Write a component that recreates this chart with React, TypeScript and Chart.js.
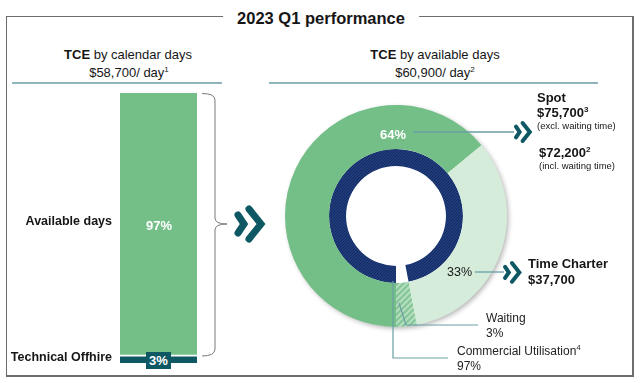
import React, { useEffect, useRef } from 'react';
import { Chart, registerables } from 'chart.js';

Chart.register(...registerables);

// ---------- data ----------
const calendarLabels = ['Technical Offhire', 'Available days'];
const calendarShares = [3, 97];
const employmentLabels = ['Spot', 'Time Charter', 'Waiting'];
const employmentShares = [64, 33, 3];
const utilisationLabels = ['Commercial Utilisation', 'Not utilised'];
const utilisationShares = [97, 3];
const tceCalendar = '$58,700';
const tceAvailable = '$60,900';
const spotExcl = '$75,700';
const spotIncl = '$72,200';
const tcRate = '$37,700';

// ---------- styles ----------
const FONT = '"Liberation Sans", Arial, Helvetica, sans-serif';
const TEAL = '#0e5864';
const GREEN = '#74bf88';
const LIGHT_GREEN = '#d5ecda';
const LINE = '#6a9ea5';
const INK = '#161616';

function makePattern(size: number, bg: string, fg: string, lw: number) {
  const c = document.createElement('canvas');
  c.width = size;
  c.height = size;
  const g = c.getContext('2d') as CanvasRenderingContext2D;
  g.fillStyle = bg;
  g.fillRect(0, 0, size, size);
  g.strokeStyle = fg;
  g.lineWidth = lw;
  g.beginPath();
  g.moveTo(0, size);
  g.lineTo(size, 0);
  g.moveTo(-size / 2, size / 2);
  g.lineTo(size / 2, -size / 2);
  g.moveTo(size / 2, size * 1.5);
  g.lineTo(size * 1.5, size / 2);
  g.stroke();
  return g.createPattern(c, 'repeat') as CanvasPattern;
}

type TProps = {
  x: number;
  y: number;
  size: number;
  bold?: boolean;
  align?: 'left' | 'center' | 'right';
  color?: string;
  children: React.ReactNode;
};

function T({ x, y, size, bold, align = 'left', color = INK, children }: TProps) {
  const style: React.CSSProperties = {
    position: 'absolute',
    top: y - size / 2,
    fontSize: size,
    lineHeight: `${size}px`,
    fontWeight: bold ? 700 : 400,
    color,
    whiteSpace: 'nowrap',
    fontFamily: FONT,
  };
  if (align === 'left') style.left = x;
  if (align === 'right') style.right = 640 - x;
  if (align === 'center') {
    style.left = x;
    style.transform = 'translateX(-50%)';
  }
  return <div style={style}>{children}</div>;
}

function Sup({ children }: { children: React.ReactNode }) {
  return (
    <span style={{ fontSize: '0.62em', verticalAlign: 'super', lineHeight: 0 }}>{children}</span>
  );
}

function BarChart() {
  const ref = useRef<HTMLCanvasElement>(null);
  useEffect(() => {
    const chart = new Chart(ref.current as HTMLCanvasElement, {
      type: 'bar',
      data: {
        labels: ['TCE'],
        datasets: [
          {
            label: calendarLabels[0],
            data: [calendarShares[0]],
            backgroundColor: TEAL,
            borderColor: '#ffffff',
            borderWidth: { top: 2, left: 0, right: 0, bottom: 0 },
            borderSkipped: false,
            barPercentage: 1,
            categoryPercentage: 1,
          },
          {
            label: calendarLabels[1],
            data: [calendarShares[1]],
            backgroundColor: GREEN,
            borderWidth: 0,
            barPercentage: 1,
            categoryPercentage: 1,
          },
        ],
      },
      options: {
        responsive: false,
        animation: false,
        events: [],
        layout: { padding: { left: 10, right: 10, top: 8, bottom: 12 } },
        scales: {
          x: { stacked: true, display: false },
          y: { stacked: true, display: false, min: 0, max: 100 },
        },
        plugins: { legend: { display: false }, tooltip: { enabled: false } },
      },
    } as any);
    return () => chart.destroy();
  }, []);
  return (
    <canvas
      ref={ref}
      width={97}
      height={290}
      style={{ position: 'absolute', left: 110, top: 85, width: 97, height: 290 }}
    />
  );
}

function DonutChart() {
  const ref = useRef<HTMLCanvasElement>(null);
  useEffect(() => {
    const navy = makePattern(3, '#213c7c', '#132a5f', 1);
    const hatch = makePattern(6, '#84c797', '#b6ddc0', 2);
    const shadowPlugin = {
      id: 'ringShadow',
      beforeDatasetsDraw(chart: any) {
        const arc = chart.getDatasetMeta(0).data[0];
        if (!arc) return;
        const { x, y, outerRadius } = arc.getProps(['x', 'y', 'outerRadius'], true);
        const ctx = chart.ctx;
        ctx.save();
        ctx.shadowColor = 'rgba(0,0,0,0.3)';
        ctx.shadowBlur = 5;
        ctx.shadowOffsetX = 2;
        ctx.shadowOffsetY = 2;
        ctx.fillStyle = '#ffffff';
        ctx.beginPath();
        ctx.arc(x, y, outerRadius - 0.5, 0, Math.PI * 2);
        ctx.fill();
        ctx.restore();
      },
    };
    const chart = new Chart(ref.current as HTMLCanvasElement, {
      type: 'doughnut',
      data: {
        labels: employmentLabels,
        datasets: [
          {
            label: 'Employment',
            data: employmentShares,
            backgroundColor: [GREEN, LIGHT_GREEN, hatch],
            borderWidth: 0,
            weight: 44,
          },
          {
            label: utilisationLabels[0],
            data: utilisationShares,
            backgroundColor: [navy, 'rgba(255,255,255,0)'],
            borderWidth: 0,
            weight: 17,
          },
        ],
      },
      options: {
        responsive: false,
        animation: false,
        events: [],
        rotation: 180,
        radius: 111,
        cutout: '45%',
        layout: { padding: 0 },
        plugins: { legend: { display: false }, tooltip: { enabled: false } },
      },
      plugins: [shadowPlugin],
    } as any);
    return () => chart.destroy();
  }, []);
  return (
    <canvas
      ref={ref}
      width={240}
      height={240}
      style={{ position: 'absolute', left: 276, top: 96, width: 240, height: 240 }}
    />
  );
}

function Chevrons({ x, y, s, w }: { x: number; y: number; s: number; w: number }) {
  const p = (pts: number[][]) => pts.map(([a, b]) => `${x + a * s},${y + b * s}`).join(' ');
  return (
    <g fill="none" stroke={TEAL} strokeWidth={w} strokeLinecap="round" strokeLinejoin="miter">
      <polyline points={p([[5, 11], [11, 20], [5, 29]])} />
      <polyline points={p([[16, 5], [28, 20], [16, 35]])} />
    </g>
  );
}

export default function App() {
  return (
    <div
      style={{
        position: 'absolute',
        left: 0,
        top: 0,
        width: 640,
        height: 383,
        background: '#ffffff',
        fontFamily: FONT,
        overflow: 'hidden',
      }}
    >
      {/* frame */}
      <div
        style={{
          position: 'absolute',
          left: 6,
          top: 16,
          width: 628,
          height: 361,
          boxSizing: 'border-box',
          borderTop: '1px solid #6d6d6d',
          borderLeft: '1px solid #6d6d6d',
          borderRight: '2px solid #6d6d6d',
          borderBottom: '2px solid #6d6d6d',
        }}
      />
      <div
        style={{
          position: 'absolute',
          left: 321,
          top: 10,
          transform: 'translateX(-50%)',
          background: '#ffffff',
          padding: '0 14px',
          fontSize: 16.5,
          lineHeight: '17px',
          fontWeight: 700,
          color: INK,
          whiteSpace: 'nowrap',
        }}
      >
        2023 Q1 performance
      </div>

      {/* headers */}
      <T x={128} y={54.5} size={13} align="center">
        <b>TCE</b> by calendar days
      </T>
      <T x={129} y={72} size={13} align="center">
        {tceCalendar}/ day<Sup>1</Sup>
      </T>
      <T x={435} y={54.5} size={13} align="center">
        <b>TCE</b> by available days
      </T>
      <T x={435} y={72} size={13} align="center">
        {tceAvailable}/ day<Sup>2</Sup>
      </T>

      <BarChart />
      <DonutChart />

      <svg
        width={640}
        height={383}
        style={{ position: 'absolute', left: 0, top: 0, pointerEvents: 'none' }}
      >
        {/* underlines */}
        <line x1={12} y1={83} x2={222} y2={83} stroke={LINE} strokeWidth={1.3} />
        <line x1={269} y1={83} x2={598} y2={83} stroke={LINE} strokeWidth={1.3} />
        {/* bracket */}
        <path
          d="M202,93.5 Q215,93.5 215,100 L215,218 Q215,224 227,224 Q215,224 215,230 L215,349 Q215,356 202,356"
          fill="none"
          stroke="#7a7a7a"
          strokeWidth={1}
        />
        {/* big chevron */}
        <Chevrons x={233} y={204} s={1} w={7} />
        {/* spot line + chevron */}
        <line x1={413} y1={132} x2={514} y2={132} stroke={LINE} strokeWidth={1.5} />
        <Chevrons x={513} y={120} s={0.6} w={4} />
        {/* time charter line + chevron */}
        <line x1={475} y1={272} x2={504} y2={272} stroke={LINE} strokeWidth={1.3} />
        <Chevrons x={502} y={260} s={0.62} w={4} />
        {/* leader lines */}
        <polyline points="399,303 406,325 478,325" fill="none" stroke={LINE} strokeWidth={1.2} />
        <polyline points="393,281 393,358 448,358" fill="none" stroke={LINE} strokeWidth={1.2} />
      </svg>

      {/* left bar labels */}
      <T x={112} y={221} size={12.5} bold align="right">
        {calendarLabels[1]}
      </T>
      <T x={159} y={225} size={13} bold align="center" color="#ffffff">
        {calendarShares[1]}%
      </T>
      <T x={112} y={357} size={12.5} bold align="right">
        {calendarLabels[0]}
      </T>
      <div
        style={{
          position: 'absolute',
          left: 146,
          top: 352,
          width: 25,
          height: 17,
          background: TEAL,
          color: '#ffffff',
          fontWeight: 700,
          fontSize: 13,
          lineHeight: '17px',
          textAlign: 'center',
        }}
      >
        {calendarShares[0]}%
      </div>

      {/* donut labels */}
      <T x={393} y={134} size={13} bold align="center" color="#ffffff">
        {employmentShares[0]}%
      </T>
      <T x={537} y={97} size={13} bold>
        {employmentLabels[0]}
      </T>
      <T x={537} y={112} size={13} bold>
        {spotExcl}
        <Sup>3</Sup>
      </T>
      <T x={537} y={126} size={9.5}>
        (excl. waiting time)
      </T>
      <T x={539} y={152} size={13} bold>
        {spotIncl}
        <Sup>2</Sup>
      </T>
      <T x={539} y={166} size={9.5}>
        (incl. waiting time)
      </T>

      <T x={447} y={272} size={12.5}>
        {employmentShares[1]}%
      </T>
      <T x={528} y={263.5} size={13} bold>
        {employmentLabels[1]}
      </T>
      <T x={528} y={279.5} size={13} bold>
        {tcRate}
      </T>

      <T x={486} y={318} size={12} color="#222">
        {employmentLabels[2]}
      </T>
      <T x={486} y={332.5} size={12} color="#222">
        {employmentShares[2]}%
      </T>
      <T x={457} y={350.5} size={12} color="#222">
        {utilisationLabels[0]}
        <Sup>4</Sup>
      </T>
      <T x={457} y={365.5} size={12} color="#222">
        {utilisationShares[0]}%
      </T>
    </div>
  );
}
